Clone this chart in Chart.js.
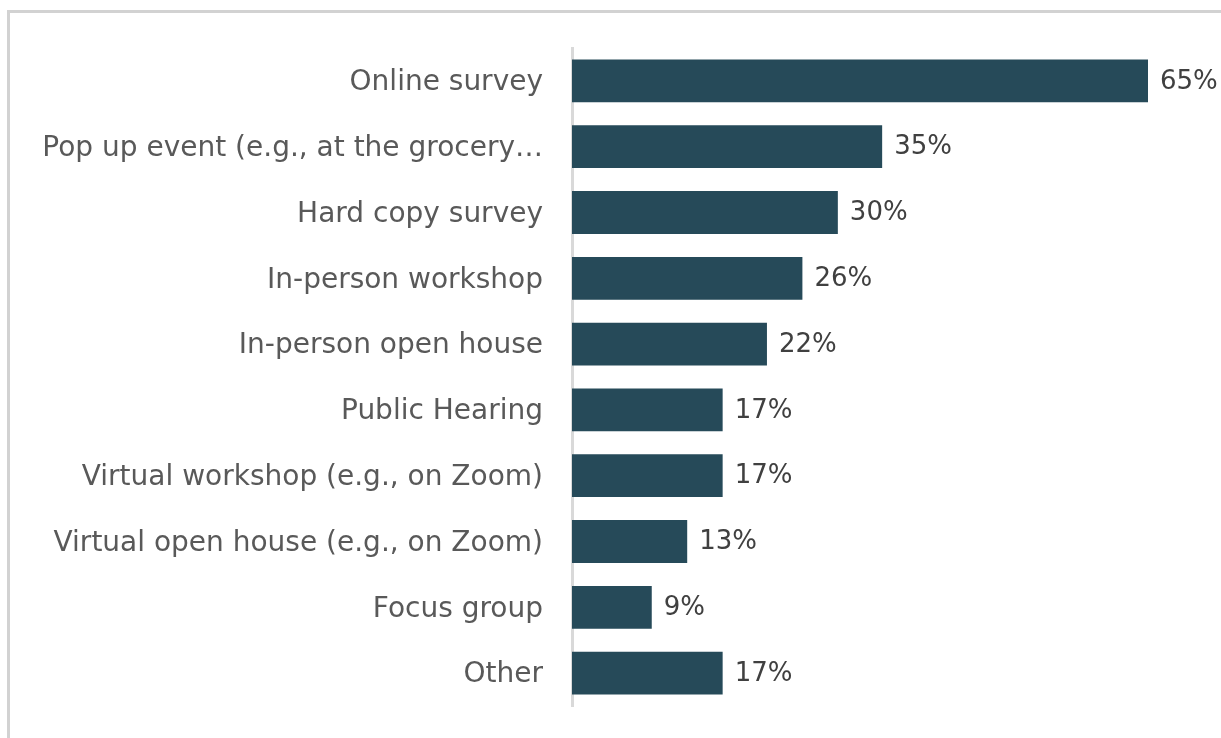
<!DOCTYPE html>
<html lang="en">
<head>
  <meta charset="UTF-8">
  <title>Preferred Engagement Methods</title>
  <script src="https://cdn.jsdelivr.net/npm/chart.js"></script>
  <style>
    body { margin: 0; background: #fff; overflow: hidden; }
    .frame {
      position: absolute; left: 7px; top: 10px;
      width: 1400px; height: 900px;
      border: 3px solid #d2d2d2;
    }
    .wrap { position: absolute; left: 0; top: 0; width: 1221px; height: 738px; }
  </style>
</head>
<body>
  <div class="frame"></div>
  <div class="wrap">
    <canvas id="grafico" width="1221" height="738"></canvas>
  </div>

  <script>
    const metodos = [
      'Online survey',
      'Pop up event (e.g., at the grocery…',
      'Hard copy survey',
      'In-person workshop',
      'In-person open house',
      'Public Hearing',
      'Virtual workshop (e.g., on Zoom)',
      'Virtual open house (e.g., on Zoom)',
      'Focus group',
      'Other'
    ];
    const percentuais = [65, 35, 30, 26, 22, 17, 17, 13, 9, 17];

    const fonte = "'DejaVu Sans', sans-serif";

    // escreve o percentual logo depois de cada barra
    const rotulos = {
      id: 'rotulos',
      afterDatasetsDraw(chart) {
        const ctx = chart.ctx;
        const meta = chart.getDatasetMeta(0);
        ctx.save();
        ctx.font = '26px ' + fonte;
        ctx.fillStyle = '#404040';
        ctx.textAlign = 'left';
        ctx.textBaseline = 'middle';
        meta.data.forEach((barra, i) => {
          ctx.fillText(percentuais[i] + '%', barra.x + 12, barra.y + 1);
        });
        ctx.restore();
      }
    };

    new Chart(document.getElementById('grafico'), {
      type: 'bar',
      data: {
        labels: metodos,
        datasets: [{
          data: percentuais,
          backgroundColor: '#264a59',
          categoryPercentage: 1,
          barPercentage: 0.65
        }]
      },
      options: {
        indexAxis: 'y',
        responsive: false,
        animation: false,
        layout: { padding: { top: 48, bottom: 32, right: 73, left: 0 } },
        plugins: {
          legend: { display: false },
          tooltip: { enabled: false }
        },
        scales: {
          x: { display: false, min: 0, max: 65 },
          y: {
            afterFit(scale) {
              scale.width = 572;
              scale.paddingTop = 0;
              scale.paddingBottom = 0;
            },
            grid: { display: false },
            border: { display: true, color: '#d9d9d9', width: 3 },
            ticks: {
              padding: 21,
              labelOffset: 2,
              color: '#595959',
              font: { family: fonte, size: 28 }
            }
          }
        }
      },
      plugins: [rotulos]
    });
  </script>
</body>
</html>
